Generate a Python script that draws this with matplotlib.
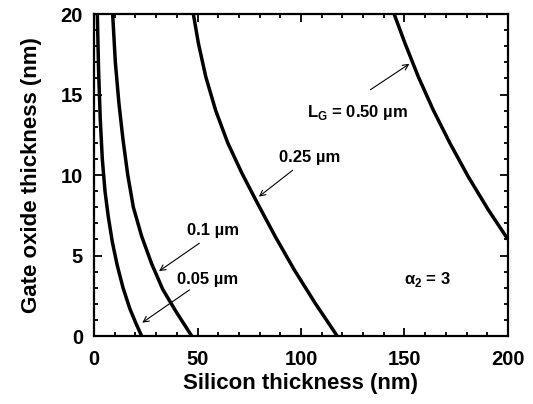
import matplotlib.pyplot as plt
from matplotlib.ticker import MultipleLocator

plt.rcParams["font.family"] = ["Liberation Sans", "DejaVu Sans"]
plt.rcParams["font.weight"] = "bold"

# curves: silicon thickness (nm) vs gate oxide thickness (nm)
x_005 = [1.6, 2.2, 3.0, 4.0, 5.3, 6.9, 8.9, 11.2, 14.0, 17.3, 20.2, 23.0]
y_005 = [20, 16.5, 13.5, 11.0, 9.0, 7.4, 5.8, 4.4, 3.0, 1.7, 0.8, 0]

x_01 = [9.0, 10.3, 12.0, 14.0, 16.3, 19.0, 23.0, 27.8, 33.2, 39.7, 47.2]
y_01 = [20, 17.0, 14.5, 12.2, 10.0, 8.0, 6.2, 4.5, 2.9, 1.5, 0]

x_025 = [48.0, 50.4, 54.0, 58.8, 64.6, 71.5, 79.0, 87.6, 96.8, 106.9, 117.5]
y_025 = [20, 18.2, 16.1, 14.0, 12.0, 10.1, 8.24, 6.17, 4.1, 2.03, 0]

x_05 = [145.0, 150.2, 156.7, 163.9, 172.0, 180.8, 190.5, 200.0]
y_05 = [20, 18.2, 16.1, 14.04, 11.97, 9.9, 7.84, 6.0]

fig = plt.figure(figsize=(5.33, 4.04), dpi=100)
ax = fig.add_axes([0.1764, 0.1683, 0.7766, 0.797])

for xs, ys in [(x_005, y_005), (x_01, y_01), (x_025, y_025), (x_05, y_05)]:
    ax.plot(xs, ys, color="black", linewidth=2.5, solid_capstyle="butt",
            solid_joinstyle="round")

ax.set_xlim(0, 200)
ax.set_ylim(0, 20)
ax.xaxis.set_major_locator(MultipleLocator(50))
ax.xaxis.set_minor_locator(MultipleLocator(10))
ax.yaxis.set_major_locator(MultipleLocator(5))
ax.yaxis.set_minor_locator(MultipleLocator(1))
ax.tick_params(which="both", direction="in", top=True, right=True, width=1.3)
ax.tick_params(which="major", length=6, labelsize=14.5)
ax.tick_params(axis="x", which="major", pad=10)
ax.tick_params(axis="y", which="major", pad=8)
ax.tick_params(which="minor", length=3)
for s in ax.spines.values():
    s.set_linewidth(1.6)

ax.set_xlabel("Silicon thickness (nm)", fontsize=16, fontweight="bold", labelpad=3)
ax.set_ylabel("Gate oxide thickness (nm)", fontsize=16, fontweight="bold", labelpad=13)

arrow = dict(arrowstyle="->", color="black", linewidth=0.8)
ax.annotate("", xy=(153.5, 17.0), xytext=(132.4, 15.2), arrowprops=arrow)
ax.text(127.3, 13.9, r"L$_\mathregular{G}$ = 0.50 µm", fontsize=12, fontweight="bold",
        ha="center", va="center")
ax.annotate("", xy=(78.6, 8.55), xytext=(97, 10.4), arrowprops=arrow)
ax.text(104, 11.1, "0.25 µm", fontsize=12, fontweight="bold", ha="center", va="center")
ax.annotate("", xy=(30.3, 3.93), xytext=(52, 5.86), arrowprops=arrow)
ax.text(57.5, 6.58, "0.1 µm", fontsize=12, fontweight="bold", ha="center", va="center")
ax.annotate("", xy=(22.2, 0.73), xytext=(47.2, 2.96), arrowprops=arrow)
ax.text(54.8, 3.48, "0.05 µm", fontsize=12, fontweight="bold", ha="center", va="center")
ax.text(161, 3.48, r"α$_\mathregular{2}$ = 3", fontsize=12, fontweight="bold",
        ha="center", va="center")

fig.savefig("out.png", dpi=100)
